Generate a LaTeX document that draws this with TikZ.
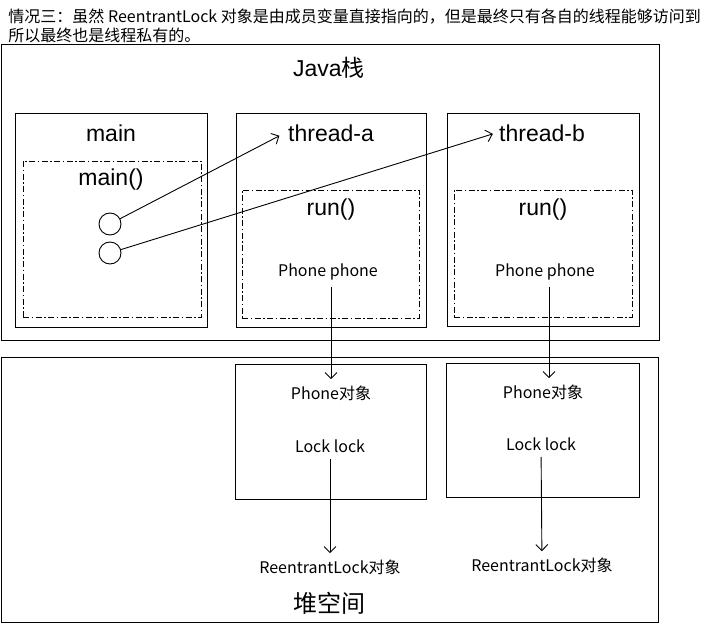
\documentclass[tikz,border=0pt]{standalone}
\usepackage{fontspec}
\setmainfont{Liberation Sans}
\newfontfamily\cjk{Noto Sans CJK SC}
\usetikzlibrary{arrows.meta}

\begin{document}
\begin{tikzpicture}
  [x=1pt,y=-1pt,line width=0.9pt,>={Straight Barb[length=6pt,width=12pt]},
   box/.style={draw,inner sep=0pt},
   frame/.style={draw,inner sep=0pt,dash pattern=on 6pt off 2.5pt on 1.5pt off 2.5pt},
   title/.style={font=\fontsize{23}{26}\selectfont,inner sep=3pt},
   field/.style={font=\cjk\fontsize{16}{19}\selectfont,inner sep=6pt},
   ref/.style={circle,draw,minimum size=22pt,inner sep=0pt}]
  \useasboundingbox (0,0) rectangle (716,623);

  \node[anchor=north west,align=left,inner sep=0pt,font=\cjk\fontsize{16}{19}\selectfont] (note) at (8,8)
    {情况三：虽然 ReentrantLock 对象是由成员变量直接指向的，但是最终只有各自的线程能够访问到\\所以最终也是线程私有的。};

  % stack and heap
  \node[box,minimum width=658,minimum height=296] (stack) at (330,192) {};
  \node[box,minimum width=657,minimum height=265] (heap) at (329.5,489.5) {};

  % threads
  \node[box,minimum width=192,minimum height=214] (mainbox) at (111,220) {};
  \node[box,minimum width=190,minimum height=214] (tabox) at (331,220) {};
  \node[box,minimum width=192,minimum height=213] (tbbox) at (543,219.5) {};
  \node[frame,minimum width=178,minimum height=156] (mainframe) at (112,239) {};
  \node[frame,minimum width=177,minimum height=128] (runa) at (330.5,254) {};
  \node[frame,minimum width=178,minimum height=127] (runb) at (543,253.5) {};

  % objects
  \node[box,minimum width=191,minimum height=135] (phonea) at (330.5,431.5) {};
  \node[box,minimum width=193,minimum height=134] (phoneb) at (542.5,430) {};

  \node[title] (java) at (329,68) {Java{\cjk 栈}};
  \node[title] (mainlbl) at (111,133) {main};
  \node[title] (tha) at (331,133) {thread-a};
  \node[title] (thb) at (542,133) {thread-b};
  \node[title] (mainfn) at (111,180) {main()};
  \node[title] (runfa) at (331,210) {run()};
  \node[title] (runfb) at (543,210) {run()};
  \node[ref] (c1) at (110,224) {};
  \node[ref] (c2) at (110,253) {};
  \node[field] (ppa) at (328,272) {Phone phone};
  \node[field] (ppb) at (545,272) {Phone phone};
  \node[field] (poa) at (331,393) {Phone对象};
  \node[field] (pob) at (543,392) {Phone对象};
  \node[field] (lla) at (330,446) {Lock lock};
  \node[field] (llb) at (541,444) {Lock lock};
  \node[field] (rla) at (330,567) {ReentrantLock对象};
  \node[field] (rlb) at (542,565) {ReentrantLock对象};
  \node[font=\cjk\fontsize{24}{28}\selectfont] (heaplbl) at (329,603) {堆空间};

  \draw[->,shorten >=6pt] (c1) -- (tha.west);
  \draw[->,shorten >=3pt] (c2) -- (thb.west);
  \draw[->] ([xshift=3pt]ppa.south) -- (poa.north);
  \draw[->] ([xshift=4pt]ppb.south) -- ([xshift=6pt]pob.north);
  \draw[->] (lla) -- (rla);
  \draw[->] (llb) -- (rlb);

\end{tikzpicture}
\end{document}
